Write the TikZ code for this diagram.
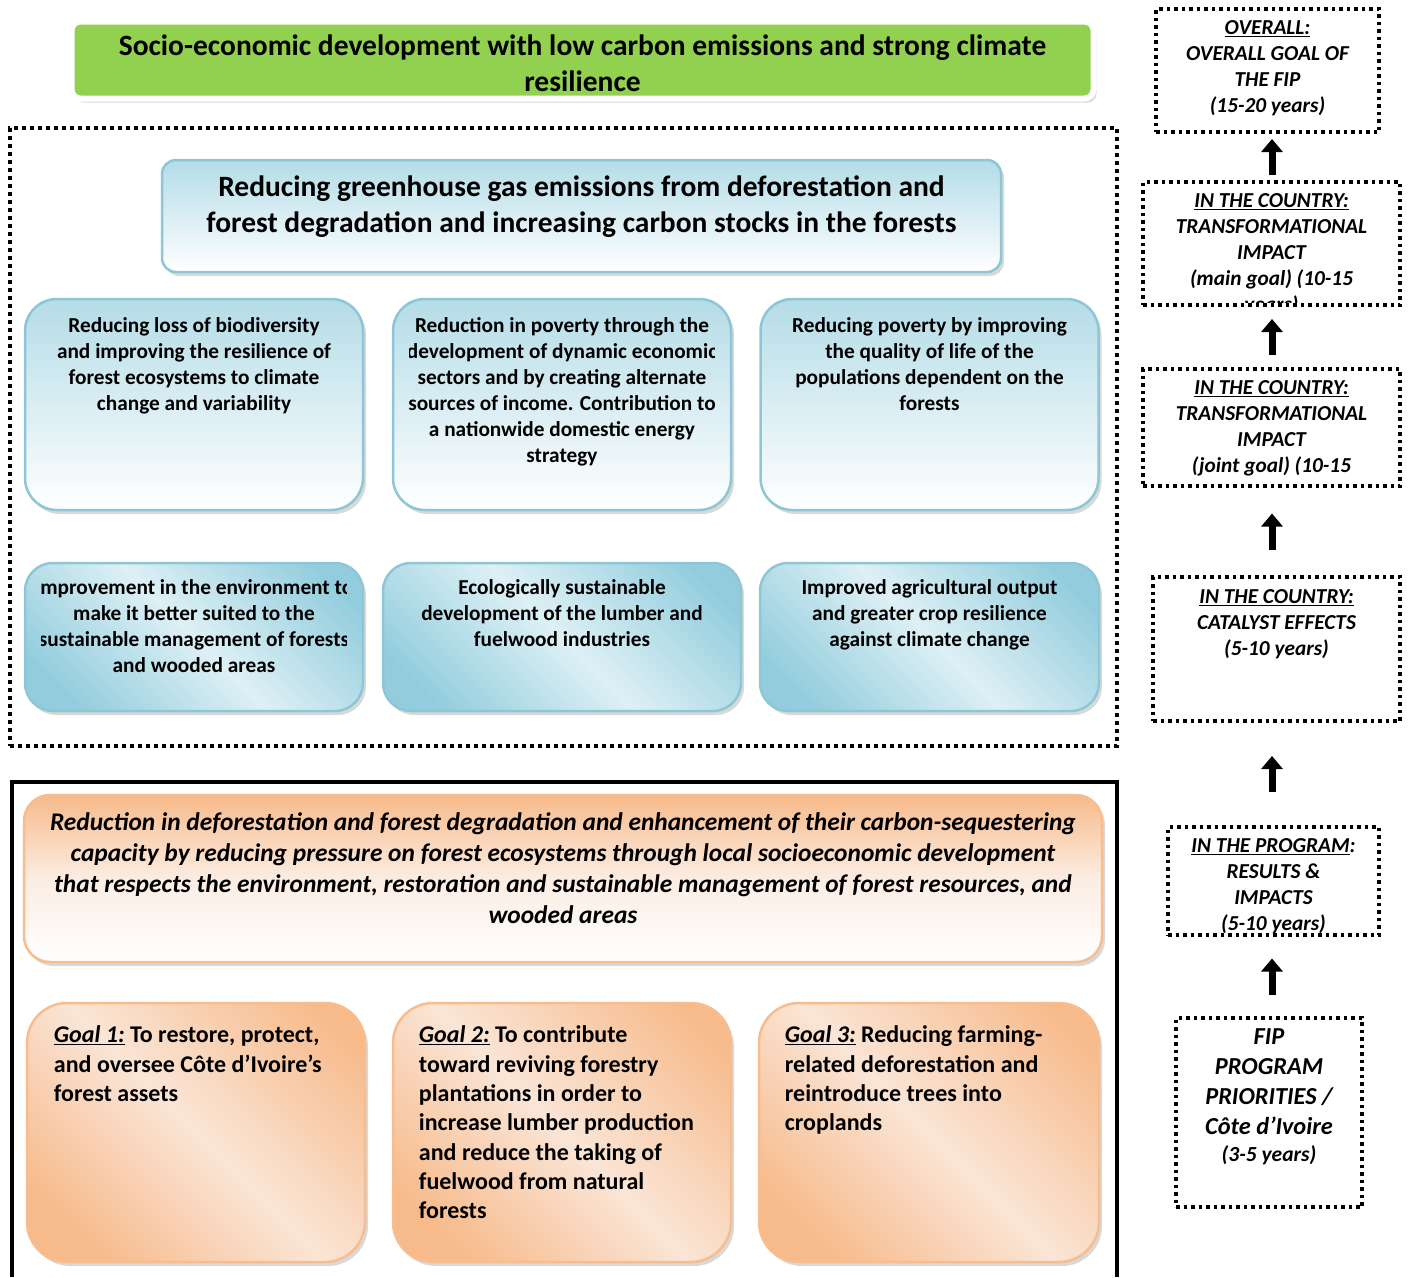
\documentclass[tikz,border=0pt]{standalone}
\usepackage{fontspec}
\setmainfont{Carlito}
\usetikzlibrary{arrows.meta,shadows,calc}

\definecolor{leafgreen}{HTML}{92D050}
\definecolor{bluetop}{HTML}{B4DCE7}
\definecolor{bluedark}{HTML}{93CDDD}
\definecolor{bluelight}{HTML}{DDF0F5}
\definecolor{blueedge}{HTML}{8DC7D7}
\definecolor{orangetop}{HTML}{F7BA8A}
\definecolor{orangelight}{HTML}{FAE5D6}
\definecolor{orangeedge}{HTML}{F8BD8E}

\pgfdeclarehorizontalshading{bluediag}{100bp}{color(0bp)=(bluedark); color(23bp)=(bluedark); color(50bp)=(bluelight); color(78bp)=(bluedark); color(100bp)=(bluedark)}
\pgfdeclarehorizontalshading{orangediag}{100bp}{color(0bp)=(orangetop); color(23bp)=(orangetop); color(50bp)=(orangelight); color(80bp)=(orangetop); color(100bp)=(orangetop)}

\newcommand{\undr}[1]{\underline{#1}}
\newcommand{\rowfont}{\fontsize{21.3}{26}\selectfont\bfseries}
\newcommand{\sidefont}{\fontsize{21.3}{26}\selectfont\bfseries\itshape}

\begin{document}
\begin{tikzpicture}[x=1pt,y=-1pt]
        \tikzset{softshadow/.style={drop shadow={opacity=0.3,shadow xshift=3pt,shadow yshift=-4pt}}}
        \tikzset{titlebox/.style={fill=leafgreen, draw=white, line width=6pt, rounded corners=9pt, softshadow}}
        \tikzset{headbox/.style={draw=blueedge, line width=2.5pt, rounded corners=14pt, top color=bluetop, bottom color=white, softshadow}}
        \tikzset{upperbox/.style={draw=blueedge, line width=2.5pt, rounded corners=32pt, top color=bluetop, bottom color=white, softshadow, minimum width=338pt, minimum height=211pt}}
        \tikzset{lowerbox/.style={draw=blueedge, line width=2.5pt, rounded corners=28pt, shading=bluediag, shading angle=45, softshadow, minimum height=148pt}}
        \tikzset{orangehead/.style={draw=orangeedge, line width=2.5pt, rounded corners=26pt, top color=orangetop, bottom color=white, middle color=orangelight!70!white, softshadow}}
        \tikzset{goalbox/.style={draw=orangeedge, line width=2.5pt, rounded corners=40pt, shading=orangediag, shading angle=45, softshadow, minimum height=259pt}}
        \tikzset{dotframe/.style={draw, line width=4pt, dash pattern=on 4pt off 4pt}}
        \tikzset{sidebox/.style={draw, line width=3.5pt, dash pattern=on 3.5pt off 4pt}}
        \tikzset{txt/.style={anchor=north, inner sep=0pt, align=center, font=\rowfont}}
        \tikzset{goaltxt/.style={anchor=north west, inner sep=0pt, align=left, font=\fontsize{24}{29.3}\selectfont\bfseries}}
        \tikzset{sidetxt/.style={anchor=north, inner sep=0pt, align=center, font=\sidefont}}
        \tikzset{uparrow/.style={line width=7pt, -{Triangle[width=21pt,length=13pt]}}}
        \useasboundingbox (0,0) rectangle (1408,1277);

        % overall goal
        \node[titlebox, minimum width=1022pt, minimum height=77pt] (overall) at (582.5,60) {};
        \node[inner sep=0pt, align=center, font=\fontsize{29.5}{36}\selectfont\bfseries] (overalltxt) at (582.5,63)
             {Socio-economic development with low carbon emissions and strong climate\\resilience};

        % country level
        \node[dotframe, minimum width=1107pt, minimum height=618pt] (country) at (563.5,437) {};
        \node[headbox, minimum width=839pt, minimum height=112pt] (carbon) at (581.5,216) {};
        \node[inner sep=0pt, align=center, font=\fontsize{29.5}{36}\selectfont\bfseries] (carbontxt) at (581.5,207)
             {Reducing greenhouse gas emissions from deforestation and\\forest degradation and increasing carbon stocks in the forests};

        \node[upperbox] (biodiv) at (194,404.5) {};
        \node[upperbox] (poverty) at (562,404.5) {};
        \node[upperbox] (quality) at (929.5,404.5) {};
        \node[txt] (biodivtxt) at ([yshift=-19.5pt]biodiv.north)
             {Reducing loss of biodiversity\\and improving the resilience of\\forest ecosystems to climate\\change and variability};
        \begin{scope}
          \clip ([xshift=18pt]poverty.south west) rectangle ([xshift=-18pt]poverty.north east);
          \node[txt] (povertytxt) at ([yshift=-19.5pt]poverty.north)
               {Reduction in poverty through the\\development of dynamic economic\\sectors and by creating alternate\\sources of income. Contribution to\\a nationwide domestic energy\\strategy};
        \end{scope}
        \node[txt] (qualitytxt) at ([yshift=-19.5pt]quality.north)
             {Reducing poverty by improving\\the quality of life of the\\populations dependent on the\\forests};

        \node[lowerbox, minimum width=338pt] (environ) at (194,637) {};
        \node[lowerbox, minimum width=358pt] (lumber) at (562,637) {};
        \node[lowerbox, minimum width=339pt] (crops) at (929.5,637) {};
        \begin{scope}
          \clip ([xshift=18pt]environ.south west) rectangle ([xshift=-18pt]environ.north east);
          \node[txt] (environtxt) at ([yshift=-17.5pt]environ.north)
               {Improvement in the environment to\\make it better suited to the\\sustainable management of forests\\and wooded areas};
        \end{scope}
        \node[txt] (lumbertxt) at ([yshift=-17.5pt]lumber.north)
             {Ecologically sustainable\\development of the lumber and\\fuelwood industries};
        \node[txt] (cropstxt) at ([yshift=-17.5pt]crops.north)
             {Improved agricultural output\\and greater crop resilience\\against climate change};

        % program level
        \draw[line width=4pt] (12,1277) |- (1117,782) -- (1117,1277);
        \node[orangehead, minimum width=1078pt, minimum height=167pt] (program) at (563,878.5) {};
        \node[txt, font=\fontsize{25.4}{31}\selectfont\bfseries\itshape] (programtxt) at ([yshift=-19pt]program.north)
             {Reduction in deforestation and forest degradation and enhancement of their carbon-sequestering\\capacity by reducing pressure on forest ecosystems through local socioeconomic development\\that respects the environment, restoration and sustainable management of forest resources, and\\wooded areas};

        \node[goalbox, minimum width=338pt] (goalone) at (196,1132.5) {};
        \node[goalbox, minimum width=338pt] (goaltwo) at (562,1132.5) {};
        \node[goalbox, minimum width=340pt] (goalthree) at (929,1132.5) {};
        \node[goaltxt] (goalonetxt) at ([xshift=28pt,yshift=-24pt]goalone.north west)
             {\undr{\textit{Goal 1:}} To restore, protect,\\and oversee Côte d’Ivoire’s\\forest assets};
        \node[goaltxt] (goaltwotxt) at ([xshift=27pt,yshift=-24pt]goaltwo.north west)
             {\undr{\textit{Goal 2:}} To contribute\\toward reviving forestry\\plantations in order to\\increase lumber production\\and reduce the taking of\\fuelwood from natural\\forests};
        \node[goaltxt] (goalthreetxt) at ([xshift=27pt,yshift=-24pt]goalthree.north west)
             {\undr{\textit{Goal 3:}} Reducing farming-\\related deforestation and\\reintroduce trees into\\croplands};

        % time scale
        \node[sidebox, minimum width=223pt, minimum height=123pt] (fipgoal) at (1267.5,70.5) {};
        \node[sidebox, minimum width=257pt, minimum height=123pt] (mainimpact) at (1271.5,243.5) {};
        \node[sidebox, minimum width=257pt, minimum height=117pt] (jointimpact) at (1271.5,427.5) {};
        \node[sidebox, minimum width=247pt, minimum height=144pt] (catalyst) at (1276.5,649) {};
        \node[sidebox, minimum width=211pt, minimum height=108pt] (results) at (1273.5,881) {};
        \node[sidebox, minimum width=186pt, minimum height=189pt] (priorities) at (1269,1112.5) {};

        \node[sidetxt] (fipgoaltxt) at ([yshift=-13.5pt]fipgoal.north)
             {\undr{OVERALL:}\\OVERALL GOAL OF\\THE FIP\\(15-20 years)};
        \begin{scope}
          \clip (mainimpact.north west) rectangle ([yshift=4pt]mainimpact.south east);
          \node[sidetxt] (mainimpacttxt) at ([yshift=-13.5pt]mainimpact.north)
               {\undr{IN THE COUNTRY:}\\TRANSFORMATIONAL\\IMPACT\\(main goal) (10-15\\years)};
        \end{scope}
        \node[sidetxt] (jointimpacttxt) at ([yshift=-13.5pt]jointimpact.north)
             {\undr{IN THE COUNTRY:}\\TRANSFORMATIONAL\\IMPACT\\(joint goal) (10-15};
        \node[sidetxt] (catalysttxt) at ([yshift=-14.5pt]catalyst.north)
             {\undr{IN THE COUNTRY:}\\CATALYST EFFECTS\\(5-10 years)};
        \begin{scope}
          \clip (results.north west) rectangle ([yshift=1.75pt]results.south east);
          \node[sidetxt] (resultstxt) at ([yshift=-13.5pt]results.north)
               {\undr{IN THE PROGRAM}:\\RESULTS \&\\IMPACTS\\(5-10 years)};
        \end{scope}
        \node[sidetxt, font=\fontsize{24.4}{30}\selectfont\bfseries\itshape] (prioritiestxt) at ([yshift=-12.5pt]priorities.north)
             {FIP\\PROGRAM\\PRIORITIES /\\Côte d’Ivoire\\[-3pt]{\fontsize{21.5}{26}\selectfont (3-5 years)}};

        \coordinate (spine) at (1272,0);
        \foreach \lo/\hi in {mainimpact/fipgoal, jointimpact/mainimpact, catalyst/jointimpact, results/catalyst, priorities/results}
          \draw[uparrow] ($($(spine |- \lo.north)!0.5!(spine |- \hi.south)$)+(0,18)$) -- ++(0,-36);
\end{tikzpicture}
\end{document}
